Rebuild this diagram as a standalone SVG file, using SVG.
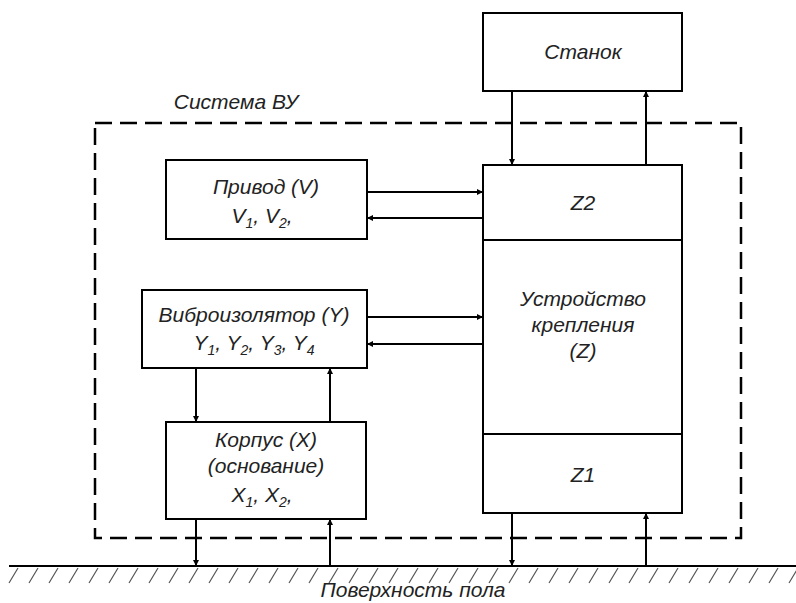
<svg xmlns="http://www.w3.org/2000/svg" width="796" height="603" viewBox="0 0 796 603">
<style>
.box{fill:#fff;stroke:#000;stroke-width:2}
.ln{fill:none;stroke:#000;stroke-width:2}
.dash{fill:none;stroke:#000;stroke-width:2.5;stroke-dasharray:17 8}
.hatch{stroke:#555;stroke-width:1.2}
text{font-family:"Liberation Sans",Arial,sans-serif;font-style:italic;font-size:21px;fill:#222;text-anchor:middle}
.sub{font-size:14px}
</style>
<defs>
<marker id="ah" viewBox="0 0 10 10" refX="10" refY="5" markerWidth="7" markerHeight="6" orient="auto" markerUnits="userSpaceOnUse">
<path d="M0,0 L10,5 L0,10 z" fill="#000"/>
</marker>
</defs>
<rect width="796" height="603" fill="#fff"/>

<g id="system-boundary">
<rect class="dash" x="95" y="123" width="646" height="415"/>
<text x="236" y="109">Система ВУ</text>
</g>

<g id="floor">
<line class="ln" x1="9" y1="566" x2="796" y2="566"/>
<path class="hatch" d="M18,568 l-9,15 M38,568 l-9,15 M58,568 l-9,15 M78,568 l-9,15 M98,568 l-9,15 M118,568 l-9,15 M138,568 l-9,15 M158,568 l-9,15 M178,568 l-9,15 M198,568 l-9,15 M218,568 l-9,15 M238,568 l-9,15 M258,568 l-9,15 M278,568 l-9,15 M298,568 l-9,15 M318,568 l-9,15 M338,568 l-9,15 M358,568 l-9,15 M378,568 l-9,15 M398,568 l-9,15 M418,568 l-9,15 M438,568 l-9,15 M458,568 l-9,15 M478,568 l-9,15 M498,568 l-9,15 M518,568 l-9,15 M538,568 l-9,15 M558,568 l-9,15 M578,568 l-9,15 M598,568 l-9,15 M618,568 l-9,15 M638,568 l-9,15 M658,568 l-9,15 M678,568 l-9,15 M698,568 l-9,15 M718,568 l-9,15 M738,568 l-9,15 M758,568 l-9,15 M778,568 l-9,15 M798,568 l-9,15"/>
<text x="413" y="597">Поверхность пола</text>
</g>

<g id="stanok">
<rect class="box" x="483" y="13" width="199" height="78"/>
<text x="583" y="59">Станок</text>
</g>

<g id="z-device">
<rect class="box" x="483" y="165" width="199" height="348"/>
<line class="ln" x1="483" y1="240" x2="682" y2="240"/>
<line class="ln" x1="483" y1="434" x2="682" y2="434"/>
<text x="583" y="210">Z2</text>
<text x="583" y="306">Устройство</text>
<text x="583" y="332">крепления</text>
<text x="583" y="358">(Z)</text>
<text x="583" y="482">Z1</text>
</g>

<g id="privod">
<rect class="box" x="166" y="160" width="201" height="79"/>
<text x="266" y="194">Привод (V)</text>
<text x="262" y="223">V<tspan class="sub" dy="5">1</tspan><tspan dy="-5">,  V</tspan><tspan class="sub" dy="5">2</tspan><tspan dy="-5">,</tspan></text>
</g>

<g id="vibro">
<rect class="box" x="142" y="290" width="225" height="78"/>
<text x="254" y="322">Виброизолятор (Y)</text>
<text x="254" y="350">Y<tspan class="sub" dy="5">1</tspan><tspan dy="-5">, Y</tspan><tspan class="sub" dy="5">2</tspan><tspan dy="-5">, Y</tspan><tspan class="sub" dy="5">3</tspan><tspan dy="-5">, Y</tspan><tspan class="sub" dy="5">4</tspan></text>
</g>

<g id="korpus">
<rect class="box" x="166" y="422" width="200" height="97"/>
<text x="266" y="447">Корпус (X)</text>
<text x="266" y="473">(основание)</text>
<text x="262" y="502">X<tspan class="sub" dy="5">1</tspan><tspan dy="-5">,  X</tspan><tspan class="sub" dy="5">2</tspan><tspan dy="-5">,</tspan></text>
</g>

<g id="connectors">
<line class="ln" x1="512" y1="91" x2="512" y2="165" marker-end="url(#ah)"/>
<line class="ln" x1="646" y1="165" x2="646" y2="91" marker-end="url(#ah)"/>
<line class="ln" x1="367" y1="192" x2="483" y2="192" marker-end="url(#ah)"/>
<line class="ln" x1="483" y1="218" x2="367" y2="218" marker-end="url(#ah)"/>
<line class="ln" x1="367" y1="317" x2="483" y2="317" marker-end="url(#ah)"/>
<line class="ln" x1="483" y1="344" x2="367" y2="344" marker-end="url(#ah)"/>
<line class="ln" x1="196" y1="368" x2="196" y2="422" marker-end="url(#ah)"/>
<line class="ln" x1="330" y1="422" x2="330" y2="368" marker-end="url(#ah)"/>
<line class="ln" x1="196" y1="519" x2="196" y2="566" marker-end="url(#ah)"/>
<line class="ln" x1="330" y1="566" x2="330" y2="519" marker-end="url(#ah)"/>
<line class="ln" x1="512" y1="513" x2="512" y2="566" marker-end="url(#ah)"/>
<line class="ln" x1="646" y1="566" x2="646" y2="513" marker-end="url(#ah)"/>
</g>
</svg>
